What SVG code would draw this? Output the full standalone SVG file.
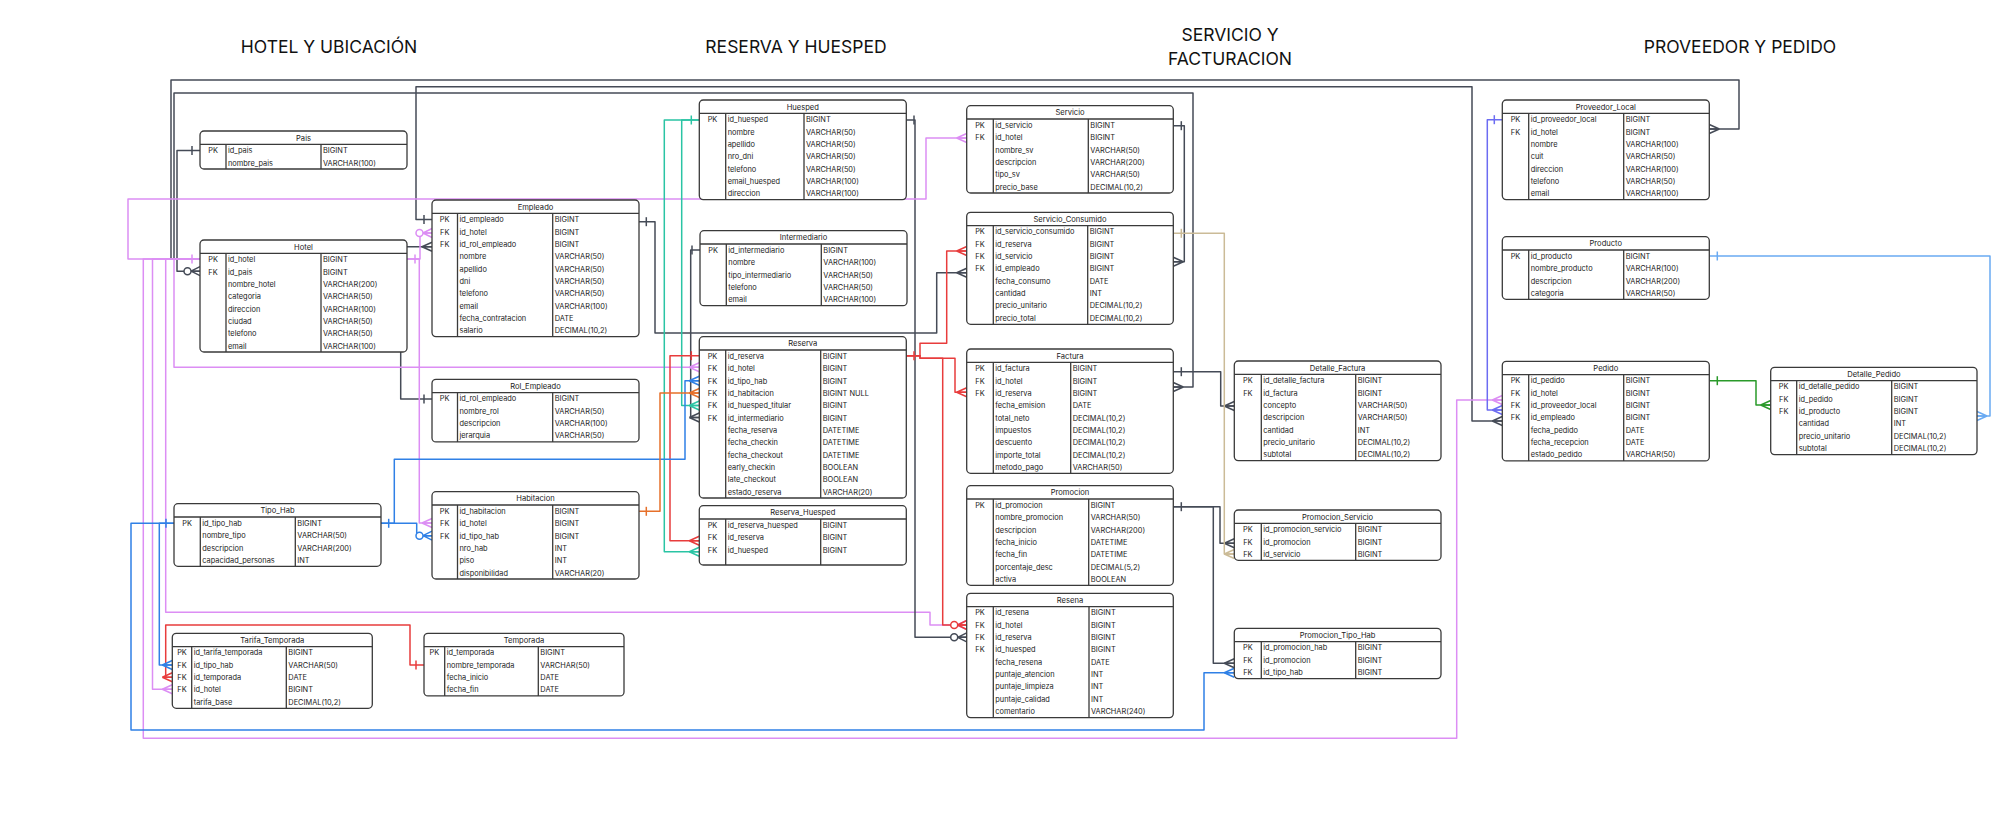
<svg xmlns="http://www.w3.org/2000/svg" width="2000" height="833" viewBox="0 0 2000 833">
<style>
.tb{fill:#fff;stroke:#3a3a3a;stroke-width:1.3}
.sp{fill:none;stroke:#3a3a3a;stroke-width:1.3}
.t{font-family:Inter,"Liberation Sans",sans-serif;font-size:7.4px;fill:#222}
.hd{text-anchor:middle;font-size:7.6px}
.k{text-anchor:middle}
.ttl{font-family:Inter,"Liberation Sans",sans-serif;font-size:17.5px;fill:#111;text-anchor:middle}
.c{fill:none;stroke-width:1.5;stroke-linejoin:round}
.dk{stroke:#454b57}.pk{stroke:#dc8ef4}.rd{stroke:#e83c3c}.tl{stroke:#2ac4a4}.bl{stroke:#2f80e6}.or{stroke:#e6702a}.tn{stroke:#cbbb97}.vi{stroke:#6c6cf2}.lb{stroke:#6aaaf2}.gn{stroke:#2a9a2a}
</style>
<defs>
<marker id="b-dk" markerUnits="userSpaceOnUse" orient="auto" overflow="visible" refX="0" refY="0"><path d="M8,-4.5V4.5" stroke="#454b57" stroke-width="1.5"/></marker>
<marker id="c-dk" markerUnits="userSpaceOnUse" orient="auto" overflow="visible" refX="0" refY="0"><path d="M-10,0L0,-4.5M-10,0L0,4.5M-10,0H0" fill="none" stroke="#454b57" stroke-width="1.5"/></marker>
<marker id="z-dk" markerUnits="userSpaceOnUse" orient="auto" overflow="visible" refX="0" refY="0"><path d="M-9,0L0,-4.5M-9,0L0,4.5M-9,0H0" fill="none" stroke="#454b57" stroke-width="1.5"/><circle cx="-12.5" cy="0" r="3.5" fill="#fff" stroke="#454b57" stroke-width="1.5"/></marker>
<marker id="b-pk" markerUnits="userSpaceOnUse" orient="auto" overflow="visible" refX="0" refY="0"><path d="M8,-4.5V4.5" stroke="#dc8ef4" stroke-width="1.5"/></marker>
<marker id="c-pk" markerUnits="userSpaceOnUse" orient="auto" overflow="visible" refX="0" refY="0"><path d="M-10,0L0,-4.5M-10,0L0,4.5M-10,0H0" fill="none" stroke="#dc8ef4" stroke-width="1.5"/></marker>
<marker id="z-pk" markerUnits="userSpaceOnUse" orient="auto" overflow="visible" refX="0" refY="0"><path d="M-9,0L0,-4.5M-9,0L0,4.5M-9,0H0" fill="none" stroke="#dc8ef4" stroke-width="1.5"/><circle cx="-12.5" cy="0" r="3.5" fill="#fff" stroke="#dc8ef4" stroke-width="1.5"/></marker>
<marker id="b-rd" markerUnits="userSpaceOnUse" orient="auto" overflow="visible" refX="0" refY="0"><path d="M8,-4.5V4.5" stroke="#e83c3c" stroke-width="1.5"/></marker>
<marker id="c-rd" markerUnits="userSpaceOnUse" orient="auto" overflow="visible" refX="0" refY="0"><path d="M-10,0L0,-4.5M-10,0L0,4.5M-10,0H0" fill="none" stroke="#e83c3c" stroke-width="1.5"/></marker>
<marker id="z-rd" markerUnits="userSpaceOnUse" orient="auto" overflow="visible" refX="0" refY="0"><path d="M-9,0L0,-4.5M-9,0L0,4.5M-9,0H0" fill="none" stroke="#e83c3c" stroke-width="1.5"/><circle cx="-12.5" cy="0" r="3.5" fill="#fff" stroke="#e83c3c" stroke-width="1.5"/></marker>
<marker id="b-tl" markerUnits="userSpaceOnUse" orient="auto" overflow="visible" refX="0" refY="0"><path d="M8,-4.5V4.5" stroke="#2ac4a4" stroke-width="1.5"/></marker>
<marker id="c-tl" markerUnits="userSpaceOnUse" orient="auto" overflow="visible" refX="0" refY="0"><path d="M-10,0L0,-4.5M-10,0L0,4.5M-10,0H0" fill="none" stroke="#2ac4a4" stroke-width="1.5"/></marker>
<marker id="b-bl" markerUnits="userSpaceOnUse" orient="auto" overflow="visible" refX="0" refY="0"><path d="M8,-4.5V4.5" stroke="#2f80e6" stroke-width="1.5"/></marker>
<marker id="c-bl" markerUnits="userSpaceOnUse" orient="auto" overflow="visible" refX="0" refY="0"><path d="M-10,0L0,-4.5M-10,0L0,4.5M-10,0H0" fill="none" stroke="#2f80e6" stroke-width="1.5"/></marker>
<marker id="z-bl" markerUnits="userSpaceOnUse" orient="auto" overflow="visible" refX="0" refY="0"><path d="M-9,0L0,-4.5M-9,0L0,4.5M-9,0H0" fill="none" stroke="#2f80e6" stroke-width="1.5"/><circle cx="-12.5" cy="0" r="3.5" fill="#fff" stroke="#2f80e6" stroke-width="1.5"/></marker>
<marker id="b-or" markerUnits="userSpaceOnUse" orient="auto" overflow="visible" refX="0" refY="0"><path d="M8,-4.5V4.5" stroke="#e6702a" stroke-width="1.5"/></marker>
<marker id="c-or" markerUnits="userSpaceOnUse" orient="auto" overflow="visible" refX="0" refY="0"><path d="M-10,0L0,-4.5M-10,0L0,4.5M-10,0H0" fill="none" stroke="#e6702a" stroke-width="1.5"/></marker>
<marker id="b-tn" markerUnits="userSpaceOnUse" orient="auto" overflow="visible" refX="0" refY="0"><path d="M8,-4.5V4.5" stroke="#cbbb97" stroke-width="1.5"/></marker>
<marker id="c-tn" markerUnits="userSpaceOnUse" orient="auto" overflow="visible" refX="0" refY="0"><path d="M-10,0L0,-4.5M-10,0L0,4.5M-10,0H0" fill="none" stroke="#cbbb97" stroke-width="1.5"/></marker>
<marker id="b-vi" markerUnits="userSpaceOnUse" orient="auto" overflow="visible" refX="0" refY="0"><path d="M8,-4.5V4.5" stroke="#6c6cf2" stroke-width="1.5"/></marker>
<marker id="c-vi" markerUnits="userSpaceOnUse" orient="auto" overflow="visible" refX="0" refY="0"><path d="M-10,0L0,-4.5M-10,0L0,4.5M-10,0H0" fill="none" stroke="#6c6cf2" stroke-width="1.5"/></marker>
<marker id="b-lb" markerUnits="userSpaceOnUse" orient="auto" overflow="visible" refX="0" refY="0"><path d="M8,-4.5V4.5" stroke="#6aaaf2" stroke-width="1.5"/></marker>
<marker id="c-lb" markerUnits="userSpaceOnUse" orient="auto" overflow="visible" refX="0" refY="0"><path d="M-10,0L0,-4.5M-10,0L0,4.5M-10,0H0" fill="none" stroke="#6aaaf2" stroke-width="1.5"/></marker>
<marker id="b-gn" markerUnits="userSpaceOnUse" orient="auto" overflow="visible" refX="0" refY="0"><path d="M8,-4.5V4.5" stroke="#2a9a2a" stroke-width="1.5"/></marker>
<marker id="c-gn" markerUnits="userSpaceOnUse" orient="auto" overflow="visible" refX="0" refY="0"><path d="M-10,0L0,-4.5M-10,0L0,4.5M-10,0H0" fill="none" stroke="#2a9a2a" stroke-width="1.5"/></marker>
</defs>
<rect width="2000" height="833" fill="#fff"/>
<g id="titles">
<text class="ttl" x="329" y="52.5">HOTEL Y UBICACIÓN</text>
<text class="ttl" x="796" y="52.5">RESERVA Y HUESPED</text>
<text class="ttl" x="1230" y="41">SERVICIO Y</text>
<text class="ttl" x="1230" y="65">FACTURACION</text>
<text class="ttl" x="1740" y="52.5">PROVEEDOR Y PEDIDO</text>
</g>
<g id="connectors">
<path class="c pk" d="M200,259H165.7V612.3H930V625H966.7" marker-end="url(#c-pk)"/>
<path class="c dk" d="M200,150.5H177V271.2H200" marker-start="url(#b-dk)" marker-end="url(#z-dk)"/>
<path class="c dk" d="M200,259H171V80H1739V129H1709.3" marker-end="url(#c-dk)"/>
<path class="c dk" d="M200,259H174V93H1193V387H1173.3" marker-end="url(#c-dk)"/>
<path class="c dk" d="M432,219.5H416V86.7H1472V421H1502.3" marker-start="url(#b-dk)" marker-end="url(#c-dk)"/>
<path class="c dk" d="M638.3,221.7H655V333H936.7V272.7H966.7" marker-start="url(#b-dk)" marker-end="url(#c-dk)"/>
<path class="c dk" d="M700,250H690.7V417.5H699.3" marker-start="url(#b-dk)" marker-end="url(#c-dk)"/>
<path class="c dk" d="M906,120H915V637.3H966.7" marker-start="url(#b-dk)" marker-end="url(#z-dk)"/>
<path class="c dk" d="M432,399H400.7V246.7H432" marker-start="url(#b-dk)" marker-end="url(#c-dk)"/>
<path class="c dk" d="M1173.3,125.7H1184.3V261.7H1173.3" marker-start="url(#b-dk)" marker-end="url(#c-dk)"/>
<path class="c dk" d="M1173.3,371.7H1220.7V406H1234.3" marker-start="url(#b-dk)" marker-end="url(#c-dk)"/>
<path class="c dk" d="M1173.3,506.7H1220V543.3H1234.3" marker-start="url(#b-dk)" marker-end="url(#c-dk)"/>
<path class="c dk" d="M1173.3,506.7H1213.3V663.3H1234.3" marker-end="url(#c-dk)"/>
<path class="c pk" d="M407,259H420V233H432" marker-start="url(#b-pk)" marker-end="url(#z-pk)"/>
<path class="c pk" d="M407,259H419.3V523H432" marker-end="url(#c-pk)"/>
<path class="c pk" d="M200,259H174V367.3H699.3" marker-start="url(#b-pk)" marker-end="url(#c-pk)"/>
<path class="c pk" d="M200,259H128V199H926V138H966.7" marker-end="url(#c-pk)"/>
<path class="c pk" d="M200,259H143.3V738.3H1456.7V400H1502.3" marker-end="url(#c-pk)"/>
<path class="c pk" d="M200,259H152.5V689.3H172.3" marker-end="url(#c-pk)"/>
<path class="c tl" d="M699.3,120H681.7V405.5H699.3" marker-start="url(#b-tl)" marker-end="url(#c-tl)"/>
<path class="c tl" d="M699.3,120H664.3V551.7H699.3" marker-end="url(#c-tl)"/>
<path class="c rd" d="M906,355.7H920V343.3H946.7V251H966.7" marker-start="url(#b-rd)" marker-end="url(#c-rd)"/>
<path class="c rd" d="M906,355.7H920V358.3H955V392.3H966.7" marker-end="url(#c-rd)"/>
<path class="c rd" d="M906,355.7H920V358.3H942.7V625H966.7" marker-end="url(#z-rd)"/>
<path class="c rd" d="M699.3,355.7H670V540.7H699.3" marker-start="url(#b-rd)" marker-end="url(#c-rd)"/>
<path class="c rd" d="M424,665H410V625H165.7V677.3H172.3" marker-start="url(#b-rd)" marker-end="url(#c-rd)"/>
<path class="c bl" d="M380.7,523.3H416.7V535.7H432" marker-start="url(#b-bl)" marker-end="url(#z-bl)"/>
<path class="c bl" d="M380.7,523.3H394.3V459.3H685V380.7H699.3" marker-end="url(#c-bl)"/>
<path class="c bl" d="M174,523.3H159.3V665H172.3" marker-start="url(#b-bl)" marker-end="url(#c-bl)"/>
<path class="c bl" d="M174,523.3H131V730H1204V672.7H1234.3" marker-end="url(#c-bl)"/>
<path class="c or" d="M638.3,511.3H660V393H699.3" marker-start="url(#b-or)" marker-end="url(#c-or)"/>
<path class="c tn" d="M1173.3,233.3H1224.3V554H1234.3" marker-start="url(#b-tn)" marker-end="url(#c-tn)"/>
<path class="c vi" d="M1502.3,119.7H1487.3V410H1502.3" marker-start="url(#b-vi)" marker-end="url(#c-vi)"/>
<path class="c lb" d="M1709.3,256H1990V416H1977" marker-start="url(#b-lb)" marker-end="url(#c-lb)"/>
<path class="c gn" d="M1709.3,380.7H1756V405H1770.7" marker-start="url(#b-gn)" marker-end="url(#c-gn)"/>
</g>
<g id="n-pais" transform="translate(200,131)">
<rect class="tb" width="207" height="38" rx="4"/>
<path class="sp" d="M0,13.3H207M26,13.3V38M121,13.3V38"/>
<text class="t hd" x="103.5" y="9.6">Pais</text>
<text class="t k" x="13" y="22.2">PK</text><text class="t" x="28" y="22.2">id_pais</text><text class="t" x="123" y="22.2">BIGINT</text>
<text class="t" x="28" y="34.5">nombre_pais</text><text class="t" x="123" y="34.5">VARCHAR(100)</text>
</g>
<g id="n-hotel" transform="translate(200,240)">
<rect class="tb" width="207" height="112" rx="4"/>
<path class="sp" d="M0,13.3H207M26,13.3V112M121,13.3V112"/>
<text class="t hd" x="103.5" y="9.6">Hotel</text>
<text class="t k" x="13" y="22.2">PK</text><text class="t" x="28" y="22.2">id_hotel</text><text class="t" x="123" y="22.2">BIGINT</text>
<text class="t k" x="13" y="34.5">FK</text><text class="t" x="28" y="34.5">id_pais</text><text class="t" x="123" y="34.5">BIGINT</text>
<text class="t" x="28" y="46.9">nombre_hotel</text><text class="t" x="123" y="46.9">VARCHAR(200)</text>
<text class="t" x="28" y="59.2">categoria</text><text class="t" x="123" y="59.2">VARCHAR(50)</text>
<text class="t" x="28" y="71.5">direccion</text><text class="t" x="123" y="71.5">VARCHAR(100)</text>
<text class="t" x="28" y="83.9">ciudad</text><text class="t" x="123" y="83.9">VARCHAR(50)</text>
<text class="t" x="28" y="96.2">telefono</text><text class="t" x="123" y="96.2">VARCHAR(50)</text>
<text class="t" x="28" y="108.5">email</text><text class="t" x="123" y="108.5">VARCHAR(100)</text>
</g>
<g id="n-empleado" transform="translate(432,200)">
<rect class="tb" width="207" height="136.6" rx="4"/>
<path class="sp" d="M0,13.3H207M25.5,13.3V136.6M120.7,13.3V136.6"/>
<text class="t hd" x="103.5" y="9.6">Empleado</text>
<text class="t k" x="12.7" y="22.2">PK</text><text class="t" x="27.5" y="22.2">id_empleado</text><text class="t" x="122.7" y="22.2">BIGINT</text>
<text class="t k" x="12.7" y="34.5">FK</text><text class="t" x="27.5" y="34.5">id_hotel</text><text class="t" x="122.7" y="34.5">BIGINT</text>
<text class="t k" x="12.7" y="46.9">FK</text><text class="t" x="27.5" y="46.9">id_rol_empleado</text><text class="t" x="122.7" y="46.9">BIGINT</text>
<text class="t" x="27.5" y="59.2">nombre</text><text class="t" x="122.7" y="59.2">VARCHAR(50)</text>
<text class="t" x="27.5" y="71.5">apellido</text><text class="t" x="122.7" y="71.5">VARCHAR(50)</text>
<text class="t" x="27.5" y="83.9">dni</text><text class="t" x="122.7" y="83.9">VARCHAR(50)</text>
<text class="t" x="27.5" y="96.2">telefono</text><text class="t" x="122.7" y="96.2">VARCHAR(50)</text>
<text class="t" x="27.5" y="108.5">email</text><text class="t" x="122.7" y="108.5">VARCHAR(100)</text>
<text class="t" x="27.5" y="120.9">fecha_contratacion</text><text class="t" x="122.7" y="120.9">DATE</text>
<text class="t" x="27.5" y="133.2">salario</text><text class="t" x="122.7" y="133.2">DECIMAL(10,2)</text>
</g>
<g id="n-rol-empleado" transform="translate(432,379.3)">
<rect class="tb" width="207" height="62.6" rx="4"/>
<path class="sp" d="M0,13.3H207M25.5,13.3V62.6M120.7,13.3V62.6"/>
<text class="t hd" x="103.5" y="9.6">Rol_Empleado</text>
<text class="t k" x="12.7" y="22.2">PK</text><text class="t" x="27.5" y="22.2">id_rol_empleado</text><text class="t" x="122.7" y="22.2">BIGINT</text>
<text class="t" x="27.5" y="34.5">nombre_rol</text><text class="t" x="122.7" y="34.5">VARCHAR(50)</text>
<text class="t" x="27.5" y="46.9">descripcion</text><text class="t" x="122.7" y="46.9">VARCHAR(100)</text>
<text class="t" x="27.5" y="59.2">jerarquia</text><text class="t" x="122.7" y="59.2">VARCHAR(50)</text>
</g>
<g id="n-tipo-hab" transform="translate(174,503.7)">
<rect class="tb" width="207" height="62.6" rx="4"/>
<path class="sp" d="M0,13.3H207M26.3,13.3V62.6M121.3,13.3V62.6"/>
<text class="t hd" x="103.5" y="9.6">Tipo_Hab</text>
<text class="t k" x="13" y="22.2">PK</text><text class="t" x="28.3" y="22.2">id_tipo_hab</text><text class="t" x="123.3" y="22.2">BIGINT</text>
<text class="t" x="28.3" y="34.5">nombre_tipo</text><text class="t" x="123.3" y="34.5">VARCHAR(50)</text>
<text class="t" x="28.3" y="46.9">descripcion</text><text class="t" x="123.3" y="46.9">VARCHAR(200)</text>
<text class="t" x="28.3" y="59.2">capacidad_personas</text><text class="t" x="123.3" y="59.2">INT</text>
</g>
<g id="n-habitacion" transform="translate(432,491.7)">
<rect class="tb" width="207" height="87.3" rx="4"/>
<path class="sp" d="M0,13.3H207M25.5,13.3V87.3M120.7,13.3V87.3"/>
<text class="t hd" x="103.5" y="9.6">Habitacion</text>
<text class="t k" x="12.7" y="22.2">PK</text><text class="t" x="27.5" y="22.2">id_habitacion</text><text class="t" x="122.7" y="22.2">BIGINT</text>
<text class="t k" x="12.7" y="34.5">FK</text><text class="t" x="27.5" y="34.5">id_hotel</text><text class="t" x="122.7" y="34.5">BIGINT</text>
<text class="t k" x="12.7" y="46.9">FK</text><text class="t" x="27.5" y="46.9">id_tipo_hab</text><text class="t" x="122.7" y="46.9">BIGINT</text>
<text class="t" x="27.5" y="59.2">nro_hab</text><text class="t" x="122.7" y="59.2">INT</text>
<text class="t" x="27.5" y="71.5">piso</text><text class="t" x="122.7" y="71.5">INT</text>
<text class="t" x="27.5" y="83.9">disponibilidad</text><text class="t" x="122.7" y="83.9">VARCHAR(20)</text>
</g>
<g id="n-tarifa-temporada" transform="translate(172.3,633.3)">
<rect class="tb" width="200" height="75" rx="4"/>
<path class="sp" d="M0,13.3H200M19.4,13.3V75M114,13.3V75"/>
<text class="t hd" x="100" y="9.6">Tarifa_Temporada</text>
<text class="t k" x="9.7" y="22.2">PK</text><text class="t" x="21.4" y="22.2">id_tarifa_temporada</text><text class="t" x="116" y="22.2">BIGINT</text>
<text class="t k" x="9.7" y="34.5">FK</text><text class="t" x="21.4" y="34.5">id_tipo_hab</text><text class="t" x="116" y="34.5">VARCHAR(50)</text>
<text class="t k" x="9.7" y="46.9">FK</text><text class="t" x="21.4" y="46.9">id_temporada</text><text class="t" x="116" y="46.9">DATE</text>
<text class="t k" x="9.7" y="59.2">FK</text><text class="t" x="21.4" y="59.2">id_hotel</text><text class="t" x="116" y="59.2">BIGINT</text>
<text class="t" x="21.4" y="71.5">tarifa_base</text><text class="t" x="116" y="71.5">DECIMAL(10,2)</text>
</g>
<g id="n-temporada" transform="translate(424,633.3)">
<rect class="tb" width="200" height="62.6" rx="4"/>
<path class="sp" d="M0,13.3H200M20.7,13.3V62.6M114.3,13.3V62.6"/>
<text class="t hd" x="100" y="9.6">Temporada</text>
<text class="t k" x="10.3" y="22.2">PK</text><text class="t" x="22.7" y="22.2">id_temporada</text><text class="t" x="116.3" y="22.2">BIGINT</text>
<text class="t" x="22.7" y="34.5">nombre_temporada</text><text class="t" x="116.3" y="34.5">VARCHAR(50)</text>
<text class="t" x="22.7" y="46.9">fecha_inicio</text><text class="t" x="116.3" y="46.9">DATE</text>
<text class="t" x="22.7" y="59.2">fecha_fin</text><text class="t" x="116.3" y="59.2">DATE</text>
</g>
<g id="n-huesped" transform="translate(699.3,100)">
<rect class="tb" width="207" height="99.6" rx="4"/>
<path class="sp" d="M0,13.3H207M26.4,13.3V99.6M104.7,13.3V99.6"/>
<text class="t hd" x="103.5" y="9.6">Huesped</text>
<text class="t k" x="13.2" y="22.2">PK</text><text class="t" x="28.4" y="22.2">id_huesped</text><text class="t" x="106.7" y="22.2">BIGINT</text>
<text class="t" x="28.4" y="34.5">nombre</text><text class="t" x="106.7" y="34.5">VARCHAR(50)</text>
<text class="t" x="28.4" y="46.9">apellido</text><text class="t" x="106.7" y="46.9">VARCHAR(50)</text>
<text class="t" x="28.4" y="59.2">nro_dni</text><text class="t" x="106.7" y="59.2">VARCHAR(50)</text>
<text class="t" x="28.4" y="71.5">telefono</text><text class="t" x="106.7" y="71.5">VARCHAR(50)</text>
<text class="t" x="28.4" y="83.9">email_huesped</text><text class="t" x="106.7" y="83.9">VARCHAR(100)</text>
<text class="t" x="28.4" y="96.2">direccion</text><text class="t" x="106.7" y="96.2">VARCHAR(100)</text>
</g>
<g id="n-intermediario" transform="translate(700,230.7)">
<rect class="tb" width="207" height="75" rx="4"/>
<path class="sp" d="M0,13.3H207M26.3,13.3V75M121.3,13.3V75"/>
<text class="t hd" x="103.5" y="9.6">Intermediario</text>
<text class="t k" x="13.2" y="22.2">PK</text><text class="t" x="28.3" y="22.2">id_intermediario</text><text class="t" x="123.3" y="22.2">BIGINT</text>
<text class="t" x="28.3" y="34.5">nombre</text><text class="t" x="123.3" y="34.5">VARCHAR(100)</text>
<text class="t" x="28.3" y="46.9">tipo_intermediario</text><text class="t" x="123.3" y="46.9">VARCHAR(50)</text>
<text class="t" x="28.3" y="59.2">telefono</text><text class="t" x="123.3" y="59.2">VARCHAR(50)</text>
<text class="t" x="28.3" y="71.5">email</text><text class="t" x="123.3" y="71.5">VARCHAR(100)</text>
</g>
<g id="n-reserva" transform="translate(699.3,336.7)">
<rect class="tb" width="207" height="161.3" rx="4"/>
<path class="sp" d="M0,13.3H207M26.4,13.3V161.3M121.4,13.3V161.3"/>
<text class="t hd" x="103.5" y="9.6">Reserva</text>
<text class="t k" x="13.2" y="22.2">PK</text><text class="t" x="28.4" y="22.2">id_reserva</text><text class="t" x="123.4" y="22.2">BIGINT</text>
<text class="t k" x="13.2" y="34.5">FK</text><text class="t" x="28.4" y="34.5">id_hotel</text><text class="t" x="123.4" y="34.5">BIGINT</text>
<text class="t k" x="13.2" y="46.9">FK</text><text class="t" x="28.4" y="46.9">id_tipo_hab</text><text class="t" x="123.4" y="46.9">BIGINT</text>
<text class="t k" x="13.2" y="59.2">FK</text><text class="t" x="28.4" y="59.2">id_habitacion</text><text class="t" x="123.4" y="59.2">BIGINT NULL</text>
<text class="t k" x="13.2" y="71.5">FK</text><text class="t" x="28.4" y="71.5">id_huesped_titular</text><text class="t" x="123.4" y="71.5">BIGINT</text>
<text class="t k" x="13.2" y="83.9">FK</text><text class="t" x="28.4" y="83.9">id_intermediario</text><text class="t" x="123.4" y="83.9">BIGINT</text>
<text class="t" x="28.4" y="96.2">fecha_reserva</text><text class="t" x="123.4" y="96.2">DATETIME</text>
<text class="t" x="28.4" y="108.5">fecha_checkin</text><text class="t" x="123.4" y="108.5">DATETIME</text>
<text class="t" x="28.4" y="120.9">fecha_checkout</text><text class="t" x="123.4" y="120.9">DATETIME</text>
<text class="t" x="28.4" y="133.2">early_checkin</text><text class="t" x="123.4" y="133.2">BOOLEAN</text>
<text class="t" x="28.4" y="145.5">late_checkout</text><text class="t" x="123.4" y="145.5">BOOLEAN</text>
<text class="t" x="28.4" y="157.9">estado_reserva</text><text class="t" x="123.4" y="157.9">VARCHAR(20)</text>
</g>
<g id="n-reserva-huesped" transform="translate(699.3,505.7)">
<rect class="tb" width="207" height="59.3" rx="4"/>
<path class="sp" d="M0,13.3H207M26.4,13.3V59.3M121.4,13.3V59.3"/>
<text class="t hd" x="103.5" y="9.6">Reserva_Huesped</text>
<text class="t k" x="13.2" y="22.2">PK</text><text class="t" x="28.4" y="22.2">id_reserva_huesped</text><text class="t" x="123.4" y="22.2">BIGINT</text>
<text class="t k" x="13.2" y="34.5">FK</text><text class="t" x="28.4" y="34.5">id_reserva</text><text class="t" x="123.4" y="34.5">BIGINT</text>
<text class="t k" x="13.2" y="46.9">FK</text><text class="t" x="28.4" y="46.9">id_huesped</text><text class="t" x="123.4" y="46.9">BIGINT</text>
</g>
<g id="n-servicio" transform="translate(966.7,105.7)">
<rect class="tb" width="206.6" height="87.3" rx="4"/>
<path class="sp" d="M0,13.3H206.6M26.6,13.3V87.3M121.6,13.3V87.3"/>
<text class="t hd" x="103.3" y="9.6">Servicio</text>
<text class="t k" x="13.3" y="22.2">PK</text><text class="t" x="28.6" y="22.2">id_servicio</text><text class="t" x="123.6" y="22.2">BIGINT</text>
<text class="t k" x="13.3" y="34.5">FK</text><text class="t" x="28.6" y="34.5">id_hotel</text><text class="t" x="123.6" y="34.5">BIGINT</text>
<text class="t" x="28.6" y="46.9">nombre_sv</text><text class="t" x="123.6" y="46.9">VARCHAR(50)</text>
<text class="t" x="28.6" y="59.2">descripcion</text><text class="t" x="123.6" y="59.2">VARCHAR(200)</text>
<text class="t" x="28.6" y="71.5">tipo_sv</text><text class="t" x="123.6" y="71.5">VARCHAR(50)</text>
<text class="t" x="28.6" y="83.9">precio_base</text><text class="t" x="123.6" y="83.9">DECIMAL(10,2)</text>
</g>
<g id="n-servicio-consumido" transform="translate(966.7,212.3)">
<rect class="tb" width="206.6" height="112" rx="4"/>
<path class="sp" d="M0,13.3H206.6M26.6,13.3V112M121,13.3V112"/>
<text class="t hd" x="103.3" y="9.6">Servicio_Consumido</text>
<text class="t k" x="13.3" y="22.2">PK</text><text class="t" x="28.6" y="22.2">id_servicio_consumido</text><text class="t" x="123" y="22.2">BIGINT</text>
<text class="t k" x="13.3" y="34.5">FK</text><text class="t" x="28.6" y="34.5">id_reserva</text><text class="t" x="123" y="34.5">BIGINT</text>
<text class="t k" x="13.3" y="46.9">FK</text><text class="t" x="28.6" y="46.9">id_servicio</text><text class="t" x="123" y="46.9">BIGINT</text>
<text class="t k" x="13.3" y="59.2">FK</text><text class="t" x="28.6" y="59.2">id_empleado</text><text class="t" x="123" y="59.2">BIGINT</text>
<text class="t" x="28.6" y="71.5">fecha_consumo</text><text class="t" x="123" y="71.5">DATE</text>
<text class="t" x="28.6" y="83.9">cantidad</text><text class="t" x="123" y="83.9">INT</text>
<text class="t" x="28.6" y="96.2">precio_unitario</text><text class="t" x="123" y="96.2">DECIMAL(10,2)</text>
<text class="t" x="28.6" y="108.5">precio_total</text><text class="t" x="123" y="108.5">DECIMAL(10,2)</text>
</g>
<g id="n-factura" transform="translate(966.7,349)">
<rect class="tb" width="206.6" height="124.3" rx="4"/>
<path class="sp" d="M0,13.3H206.6M26.6,13.3V124.3M104,13.3V124.3"/>
<text class="t hd" x="103.3" y="9.6">Factura</text>
<text class="t k" x="13.3" y="22.2">PK</text><text class="t" x="28.6" y="22.2">id_factura</text><text class="t" x="106" y="22.2">BIGINT</text>
<text class="t k" x="13.3" y="34.5">FK</text><text class="t" x="28.6" y="34.5">id_hotel</text><text class="t" x="106" y="34.5">BIGINT</text>
<text class="t k" x="13.3" y="46.9">FK</text><text class="t" x="28.6" y="46.9">id_reserva</text><text class="t" x="106" y="46.9">BIGINT</text>
<text class="t" x="28.6" y="59.2">fecha_emision</text><text class="t" x="106" y="59.2">DATE</text>
<text class="t" x="28.6" y="71.5">total_neto</text><text class="t" x="106" y="71.5">DECIMAL(10,2)</text>
<text class="t" x="28.6" y="83.9">impuestos</text><text class="t" x="106" y="83.9">DECIMAL(10,2)</text>
<text class="t" x="28.6" y="96.2">descuento</text><text class="t" x="106" y="96.2">DECIMAL(10,2)</text>
<text class="t" x="28.6" y="108.5">importe_total</text><text class="t" x="106" y="108.5">DECIMAL(10,2)</text>
<text class="t" x="28.6" y="120.9">metodo_pago</text><text class="t" x="106" y="120.9">VARCHAR(50)</text>
</g>
<g id="n-promocion" transform="translate(966.7,485.7)">
<rect class="tb" width="206.6" height="99.6" rx="4"/>
<path class="sp" d="M0,13.3H206.6M26.6,13.3V99.6M122,13.3V99.6"/>
<text class="t hd" x="103.3" y="9.6">Promocion</text>
<text class="t k" x="13.3" y="22.2">PK</text><text class="t" x="28.6" y="22.2">id_promocion</text><text class="t" x="124" y="22.2">BIGINT</text>
<text class="t" x="28.6" y="34.5">nombre_promocion</text><text class="t" x="124" y="34.5">VARCHAR(50)</text>
<text class="t" x="28.6" y="46.9">descripcion</text><text class="t" x="124" y="46.9">VARCHAR(200)</text>
<text class="t" x="28.6" y="59.2">fecha_inicio</text><text class="t" x="124" y="59.2">DATETIME</text>
<text class="t" x="28.6" y="71.5">fecha_fin</text><text class="t" x="124" y="71.5">DATETIME</text>
<text class="t" x="28.6" y="83.9">porcentaje_desc</text><text class="t" x="124" y="83.9">DECIMAL(5,2)</text>
<text class="t" x="28.6" y="96.2">activa</text><text class="t" x="124" y="96.2">BOOLEAN</text>
</g>
<g id="n-resena" transform="translate(966.7,593.3)">
<rect class="tb" width="206.6" height="124.3" rx="4"/>
<path class="sp" d="M0,13.3H206.6M26.6,13.3V124.3M122.3,13.3V124.3"/>
<text class="t hd" x="103.3" y="9.6">Resena</text>
<text class="t k" x="13.3" y="22.2">PK</text><text class="t" x="28.6" y="22.2">id_resena</text><text class="t" x="124.3" y="22.2">BIGINT</text>
<text class="t k" x="13.3" y="34.5">FK</text><text class="t" x="28.6" y="34.5">id_hotel</text><text class="t" x="124.3" y="34.5">BIGINT</text>
<text class="t k" x="13.3" y="46.9">FK</text><text class="t" x="28.6" y="46.9">id_reserva</text><text class="t" x="124.3" y="46.9">BIGINT</text>
<text class="t k" x="13.3" y="59.2">FK</text><text class="t" x="28.6" y="59.2">id_huesped</text><text class="t" x="124.3" y="59.2">BIGINT</text>
<text class="t" x="28.6" y="71.5">fecha_resena</text><text class="t" x="124.3" y="71.5">DATE</text>
<text class="t" x="28.6" y="83.9">puntaje_atencion</text><text class="t" x="124.3" y="83.9">INT</text>
<text class="t" x="28.6" y="96.2">puntaje_limpieza</text><text class="t" x="124.3" y="96.2">INT</text>
<text class="t" x="28.6" y="108.5">puntaje_calidad</text><text class="t" x="124.3" y="108.5">INT</text>
<text class="t" x="28.6" y="120.9">comentario</text><text class="t" x="124.3" y="120.9">VARCHAR(240)</text>
</g>
<g id="n-detalle-factura" transform="translate(1234.3,361)">
<rect class="tb" width="206.7" height="99.6" rx="4"/>
<path class="sp" d="M0,13.3H206.7M27,13.3V99.6M121.4,13.3V99.6"/>
<text class="t hd" x="103.3" y="9.6">Detalle_Factura</text>
<text class="t k" x="13.5" y="22.2">PK</text><text class="t" x="29" y="22.2">id_detalle_factura</text><text class="t" x="123.4" y="22.2">BIGINT</text>
<text class="t k" x="13.5" y="34.5">FK</text><text class="t" x="29" y="34.5">id_factura</text><text class="t" x="123.4" y="34.5">BIGINT</text>
<text class="t" x="29" y="46.9">concepto</text><text class="t" x="123.4" y="46.9">VARCHAR(50)</text>
<text class="t" x="29" y="59.2">descripcion</text><text class="t" x="123.4" y="59.2">VARCHAR(50)</text>
<text class="t" x="29" y="71.5">cantidad</text><text class="t" x="123.4" y="71.5">INT</text>
<text class="t" x="29" y="83.9">precio_unitario</text><text class="t" x="123.4" y="83.9">DECIMAL(10,2)</text>
<text class="t" x="29" y="96.2">subtotal</text><text class="t" x="123.4" y="96.2">DECIMAL(10,2)</text>
</g>
<g id="n-promocion-servicio" transform="translate(1234.3,510)">
<rect class="tb" width="206.7" height="50.3" rx="4"/>
<path class="sp" d="M0,13.3H206.7M27,13.3V50.3M121.4,13.3V50.3"/>
<text class="t hd" x="103.3" y="9.6">Promocion_Servicio</text>
<text class="t k" x="13.5" y="22.2">PK</text><text class="t" x="29" y="22.2">id_promocion_servicio</text><text class="t" x="123.4" y="22.2">BIGINT</text>
<text class="t k" x="13.5" y="34.5">FK</text><text class="t" x="29" y="34.5">id_promocion</text><text class="t" x="123.4" y="34.5">BIGINT</text>
<text class="t k" x="13.5" y="46.9">FK</text><text class="t" x="29" y="46.9">id_servicio</text><text class="t" x="123.4" y="46.9">BIGINT</text>
</g>
<g id="n-promocion-tipo-hab" transform="translate(1234.3,628.3)">
<rect class="tb" width="206.7" height="50.3" rx="4"/>
<path class="sp" d="M0,13.3H206.7M27,13.3V50.3M121.4,13.3V50.3"/>
<text class="t hd" x="103.3" y="9.6">Promocion_Tipo_Hab</text>
<text class="t k" x="13.5" y="22.2">PK</text><text class="t" x="29" y="22.2">id_promocion_hab</text><text class="t" x="123.4" y="22.2">BIGINT</text>
<text class="t k" x="13.5" y="34.5">FK</text><text class="t" x="29" y="34.5">id_promocion</text><text class="t" x="123.4" y="34.5">BIGINT</text>
<text class="t k" x="13.5" y="46.9">FK</text><text class="t" x="29" y="46.9">id_tipo_hab</text><text class="t" x="123.4" y="46.9">BIGINT</text>
</g>
<g id="n-proveedor-local" transform="translate(1502.3,100)">
<rect class="tb" width="207" height="99.6" rx="4"/>
<path class="sp" d="M0,13.3H207M26.4,13.3V99.6M121.4,13.3V99.6"/>
<text class="t hd" x="103.5" y="9.6">Proveedor_Local</text>
<text class="t k" x="13.2" y="22.2">PK</text><text class="t" x="28.4" y="22.2">id_proveedor_local</text><text class="t" x="123.4" y="22.2">BIGINT</text>
<text class="t k" x="13.2" y="34.5">FK</text><text class="t" x="28.4" y="34.5">id_hotel</text><text class="t" x="123.4" y="34.5">BIGINT</text>
<text class="t" x="28.4" y="46.9">nombre</text><text class="t" x="123.4" y="46.9">VARCHAR(100)</text>
<text class="t" x="28.4" y="59.2">cuit</text><text class="t" x="123.4" y="59.2">VARCHAR(50)</text>
<text class="t" x="28.4" y="71.5">direccion</text><text class="t" x="123.4" y="71.5">VARCHAR(100)</text>
<text class="t" x="28.4" y="83.9">telefono</text><text class="t" x="123.4" y="83.9">VARCHAR(50)</text>
<text class="t" x="28.4" y="96.2">email</text><text class="t" x="123.4" y="96.2">VARCHAR(100)</text>
</g>
<g id="n-producto" transform="translate(1502.3,236.7)">
<rect class="tb" width="207" height="62.6" rx="4"/>
<path class="sp" d="M0,13.3H207M26.4,13.3V62.6M121.4,13.3V62.6"/>
<text class="t hd" x="103.5" y="9.6">Producto</text>
<text class="t k" x="13.2" y="22.2">PK</text><text class="t" x="28.4" y="22.2">id_producto</text><text class="t" x="123.4" y="22.2">BIGINT</text>
<text class="t" x="28.4" y="34.5">nombre_producto</text><text class="t" x="123.4" y="34.5">VARCHAR(100)</text>
<text class="t" x="28.4" y="46.9">descripcion</text><text class="t" x="123.4" y="46.9">VARCHAR(200)</text>
<text class="t" x="28.4" y="59.2">categoria</text><text class="t" x="123.4" y="59.2">VARCHAR(50)</text>
</g>
<g id="n-pedido" transform="translate(1502.3,361.3)">
<rect class="tb" width="207" height="99.6" rx="4"/>
<path class="sp" d="M0,13.3H207M26.4,13.3V99.6M121.4,13.3V99.6"/>
<text class="t hd" x="103.5" y="9.6">Pedido</text>
<text class="t k" x="13.2" y="22.2">PK</text><text class="t" x="28.4" y="22.2">id_pedido</text><text class="t" x="123.4" y="22.2">BIGINT</text>
<text class="t k" x="13.2" y="34.5">FK</text><text class="t" x="28.4" y="34.5">id_hotel</text><text class="t" x="123.4" y="34.5">BIGINT</text>
<text class="t k" x="13.2" y="46.9">FK</text><text class="t" x="28.4" y="46.9">id_proveedor_local</text><text class="t" x="123.4" y="46.9">BIGINT</text>
<text class="t k" x="13.2" y="59.2">FK</text><text class="t" x="28.4" y="59.2">id_empleado</text><text class="t" x="123.4" y="59.2">BIGINT</text>
<text class="t" x="28.4" y="71.5">fecha_pedido</text><text class="t" x="123.4" y="71.5">DATE</text>
<text class="t" x="28.4" y="83.9">fecha_recepcion</text><text class="t" x="123.4" y="83.9">DATE</text>
<text class="t" x="28.4" y="96.2">estado_pedido</text><text class="t" x="123.4" y="96.2">VARCHAR(50)</text>
</g>
<g id="n-detalle-pedido" transform="translate(1770.7,367.3)">
<rect class="tb" width="206.3" height="87.3" rx="4"/>
<path class="sp" d="M0,13.3H206.3M26,13.3V87.3M121,13.3V87.3"/>
<text class="t hd" x="103.2" y="9.6">Detalle_Pedido</text>
<text class="t k" x="13" y="22.2">PK</text><text class="t" x="28" y="22.2">id_detalle_pedido</text><text class="t" x="123" y="22.2">BIGINT</text>
<text class="t k" x="13" y="34.5">FK</text><text class="t" x="28" y="34.5">id_pedido</text><text class="t" x="123" y="34.5">BIGINT</text>
<text class="t k" x="13" y="46.9">FK</text><text class="t" x="28" y="46.9">id_producto</text><text class="t" x="123" y="46.9">BIGINT</text>
<text class="t" x="28" y="59.2">cantidad</text><text class="t" x="123" y="59.2">INT</text>
<text class="t" x="28" y="71.5">precio_unitario</text><text class="t" x="123" y="71.5">DECIMAL(10,2)</text>
<text class="t" x="28" y="83.9">subtotal</text><text class="t" x="123" y="83.9">DECIMAL(10,2)</text>
</g>
</svg>
